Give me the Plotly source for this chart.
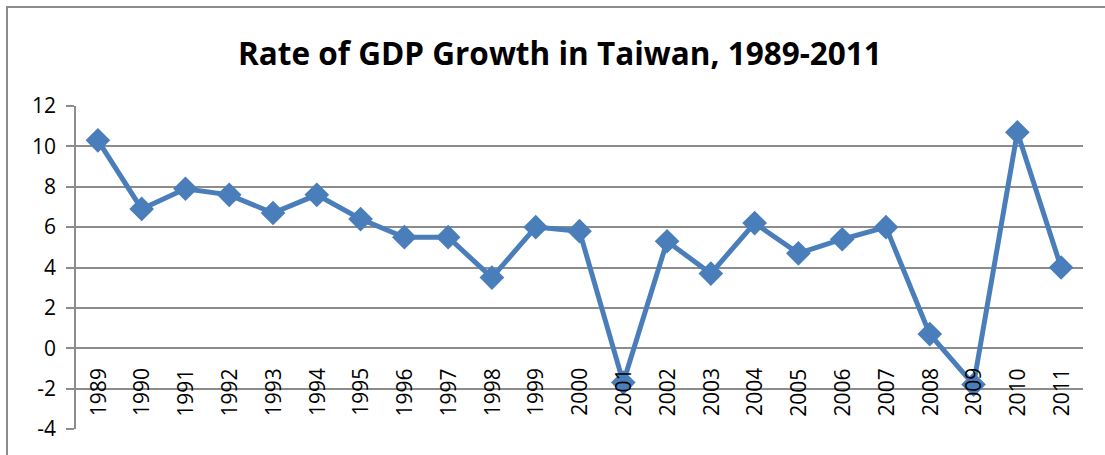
import plotly.graph_objects as go

years = [str(y) for y in range(1989, 2012)]
growth = [10.3, 6.9, 7.9, 7.6, 6.7, 7.6, 6.4, 5.5, 5.5, 3.5, 6.0, 5.8, -1.7,
          5.3, 3.7, 6.2, 4.7, 5.4, 6.0, 0.7, -1.8, 10.7, 4.0]
y_ticks = [-4, -2, 0, 2, 4, 6, 8, 10, 12]
y_tick_labels = ["-4", "-2", "0", "2", "4", "6", "8", "10", "12"]

W, H = 1105, 455
L, R, T, B = 76, 1083, 106, 429
pw, ph = R - L, B - T

def px_x(p):
    return (p - L) / pw

def px_y(p):
    return (B - p) / ph

color = "#4A7EBB"
font = "Open Sans"

fig = go.Figure()
fig.add_trace(go.Scatter(
    x=list(range(len(years))), y=growth, mode="lines+markers",
    line=dict(color=color, width=5),
    marker=dict(symbol="diamond", size=19, color=color),
    showlegend=False, hoverinfo="skip"))

annotations = [dict(x=i, y=0, xref="x", yref="y", text=yr, showarrow=False,
                    textangle=-90, xanchor="center", yanchor="top", yshift=-18,
                    font=dict(family=font, size=21, color="#000000"))
               for i, yr in enumerate(years)]
annotations.append(dict(x=px_x(560), y=px_y(52), xref="paper", yref="paper",
                        text="<b>Rate of GDP Growth in Taiwan, 1989-2011</b>",
                        showarrow=False, xanchor="center", yanchor="middle",
                        font=dict(family=font, size=31.5, color="#000000")))

fig.update_layout(
    width=W, height=H,
    margin=dict(l=L, r=W - R, t=T, b=H - B, pad=0),
    paper_bgcolor="white", plot_bgcolor="white",
    annotations=annotations,
    shapes=[dict(type="rect", xref="paper", yref="paper",
                 x0=px_x(7), x1=px_x(1120), y0=px_y(470), y1=px_y(7),
                 line=dict(color="#8C8C8C", width=2), fillcolor="rgba(0,0,0,0)",
                 layer="below")],
    xaxis=dict(range=[-0.5, len(years) - 0.5], showgrid=False, zeroline=False,
               showticklabels=False, showline=False, ticks=""),
    yaxis=dict(range=[-4, 12], tickvals=y_ticks, ticktext=y_tick_labels,
               showgrid=True,
               gridcolor="#8C8C8C", gridwidth=1.5, zeroline=False,
               showline=True, linecolor="#8C8C8C", linewidth=1.5,
               ticks="outside", ticklen=8, tickcolor="#8C8C8C", tickwidth=1.5,
               tickfont=dict(family=font, size=21, color="#000000"),
               ticklabelstandoff=6),
)

fig.write_html("out.html", config={"displayModeBar": False},
               post_script="document.body.style.margin='0';document.body.style.padding='0';")
